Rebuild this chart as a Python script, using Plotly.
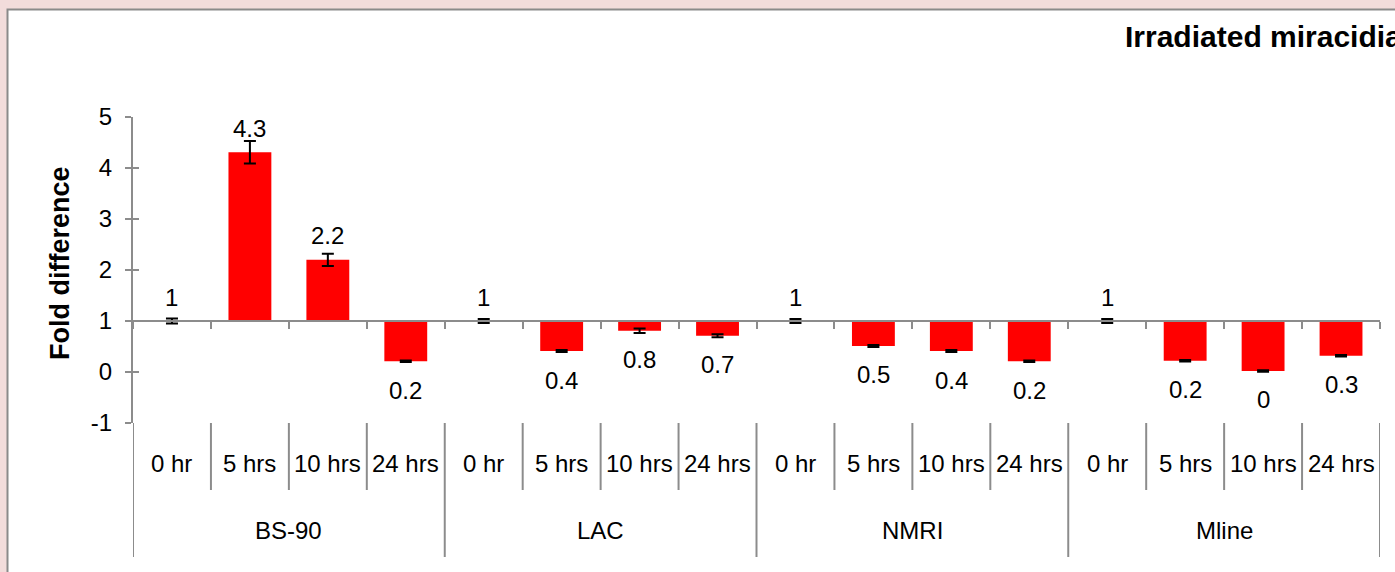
import plotly.graph_objects as go

groups = ["BS-90", "LAC", "NMRI", "Mline"]
times = ["0 hr", "5 hrs", "10 hrs", "24 hrs"]
values = [1, 4.31, 2.20, 0.21,
          1, 0.41, 0.81, 0.71,
          1, 0.51, 0.41, 0.21,
          1, 0.22, 0.02, 0.32]
errors = [0.05, 0.22, 0.12, 0.015,
          0.04, 0.02, 0.045, 0.03,
          0.04, 0.02, 0.02, 0.015,
          0.04, 0.015, 0.015, 0.015]
labels = ["1", "4.3", "2.2", "0.2",
          "1", "0.4", "0.8", "0.7",
          "1", "0.5", "0.4", "0.2",
          "1", "0.2", "0", "0.3"]
ytick_vals = [-1, 0, 1, 2, 3, 4, 5]
ytick_text = ["-1", "0", "1", "2", "3", "4", "5"]
baseline = 1
title_text = "Irradiated miracidia"
ytitle = "Fold difference"

W, H = 1395, 572
ML, MR, MT, MB = 133, 15, 117, 149
PW, PH = W - ML - MR, H - MT - MB
GRAY = "#8c8c8c"
FONT = "Liberation Sans, Arial, sans-serif"
FS = 24


def px_x(p):
    return (p - ML) / PW


def px_y(p):
    return (H - MB - p) / PH


n = len(values)
xs = list(range(n))

fig = go.Figure()
fig.add_trace(go.Bar(
    x=xs, y=[v - baseline for v in values], base=baseline,
    width=0.55, marker=dict(color="#ff0000", line=dict(width=0)),
    error_y=dict(type="data", array=errors, visible=True,
                 color="black", thickness=2, width=6),
    hoverinfo="skip", showlegend=False,
))
# invisible trace for overlay axis (inside ticks)
fig.add_trace(go.Scatter(x=[0], y=[0], yaxis="y2", mode="markers",
                         marker=dict(opacity=0), showlegend=False,
                         hoverinfo="skip"))

shapes = []
# white frame
shapes.append(dict(type="rect", xref="paper", yref="paper",
                   x0=px_x(7.5), x1=px_x(1410), y0=px_y(590), y1=px_y(9.5),
                   fillcolor="white", line=dict(color="#8a8a8a", width=2),
                   layer="below"))
# category separators
for k in range(n + 1):
    xb = k - 0.5
    if k % 4 == 0:
        y_end = px_y(557)
    else:
        y_end = px_y(490)
    shapes.append(dict(type="line", xref="x", yref="paper",
                       x0=xb, x1=xb, y0=0, y1=y_end,
                       line=dict(color=GRAY, width=2)))

annotations = []
# data labels
for i, (v, lab) in enumerate(zip(values, labels)):
    if v >= baseline:
        shift = 24
    else:
        shift = -29
    annotations.append(dict(x=i, y=v, xref="x", yref="y", text=lab,
                            showarrow=False, yshift=shift,
                            xanchor="center", yanchor="middle",
                            font=dict(size=FS, color="black", family=FONT)))
# sub-category labels
for g in range(len(groups)):
    for t in range(len(times)):
        annotations.append(dict(x=g * 4 + t, y=px_y(463), xref="x", yref="paper",
                                text=times[t], showarrow=False,
                                xanchor="center", yanchor="middle",
                                font=dict(size=FS, color="black", family=FONT)))
    annotations.append(dict(x=g * 4 + 1.5, y=px_y(530), xref="x", yref="paper",
                            text=groups[g], showarrow=False,
                            xanchor="center", yanchor="middle",
                            font=dict(size=FS, color="black", family=FONT)))
# title
annotations.append(dict(x=px_x(1123), y=px_y(36), xref="paper", yref="paper",
                        xanchor="left", yanchor="middle", text="<b>" + title_text + "</b>",
                        showarrow=False,
                        font=dict(size=30, color="black", family=FONT)))
# y axis title
annotations.append(dict(x=px_x(60), y=px_y(263), xref="paper", yref="paper",
                        xanchor="center", yanchor="middle",
                        text="<b>" + ytitle + "</b>", textangle=-90, showarrow=False,
                        font=dict(size=27, color="black", family=FONT)))

fig.update_layout(
    width=W, height=H,
    margin=dict(l=ML, r=MR, t=MT, b=MB, pad=0),
    paper_bgcolor="#f2dcdb",
    plot_bgcolor="rgba(0,0,0,0)",
    shapes=shapes,
    annotations=annotations,
    bargap=0.45,
    xaxis=dict(range=[-0.5, n - 0.5], anchor="free",
               position=(baseline - ytick_vals[0]) / (ytick_vals[-1] - ytick_vals[0]),
               showgrid=False, zeroline=False, showline=True, linecolor=GRAY,
               linewidth=2, ticks="outside", ticklen=7, tickwidth=2, tickcolor=GRAY,
               tickvals=[k - 0.5 for k in range(n + 1)], showticklabels=False,
               fixedrange=True),
    yaxis=dict(range=[ytick_vals[0], ytick_vals[-1]], showgrid=False, zeroline=False,
               showline=True, linecolor=GRAY, linewidth=2,
               ticks="outside", ticklen=6, tickwidth=2, tickcolor=GRAY,
               tickvals=ytick_vals, ticktext=ytick_text,
               tickfont=dict(size=FS, color="black", family=FONT),
               ticklabelstandoff=8, fixedrange=True),
    yaxis2=dict(range=[ytick_vals[0], ytick_vals[-1]], overlaying="y", side="left",
                showgrid=False, zeroline=False, showline=False,
                ticks="inside", ticklen=6, tickwidth=2, tickcolor=GRAY,
                tickvals=ytick_vals, showticklabels=False, fixedrange=True),
)

fig.write_html("out.html", config={"displayModeBar": False})
